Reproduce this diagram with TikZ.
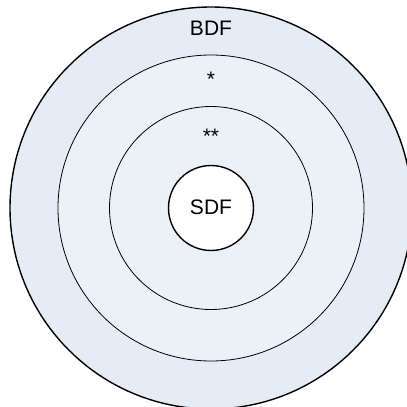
\documentclass[tikz,border=0pt]{standalone}
\usepackage{fontspec}
\setmainfont{Liberation Sans}
\usepackage{tikz}
\usetikzlibrary{positioning}
\definecolor{ringbg}{RGB}{230,236,246}
\definecolor{innerbg}{RGB}{236,241,248}

\tikzset{
    ring/.style={circle, draw=black, inner sep=0pt},
    lbl/.style={font=\fontsize{21}{25}\selectfont, anchor=base}
}

\begin{document}
\begin{tikzpicture}
    \useasboundingbox (-211pt,-199pt) rectangle (196pt,208pt);

    % Rings, outside in
    \node[ring, fill=ringbg, line width=1.4pt, minimum size=402pt] (bdf) at (0,0) {};
    \node[ring, fill=innerbg, line width=0.8pt, minimum size=306pt] (one) at (0,0) {};
    \node[ring, fill=innerbg, line width=0.8pt, minimum size=203pt] (two) at (0,0) {};
    \node[ring, fill=white, line width=1.4pt, minimum size=85pt] (sdf) at (0,0) {};

    % Labels
    \node[lbl] (bdflbl) at (0,172pt) {BDF};
    \node[lbl] (onelbl) at (0,121pt) {*};
    \node[lbl] (twolbl) at (0,64pt) {**};
    \node[lbl] (sdflbl) at (0,-6pt) {SDF};
\end{tikzpicture}
\end{document}
